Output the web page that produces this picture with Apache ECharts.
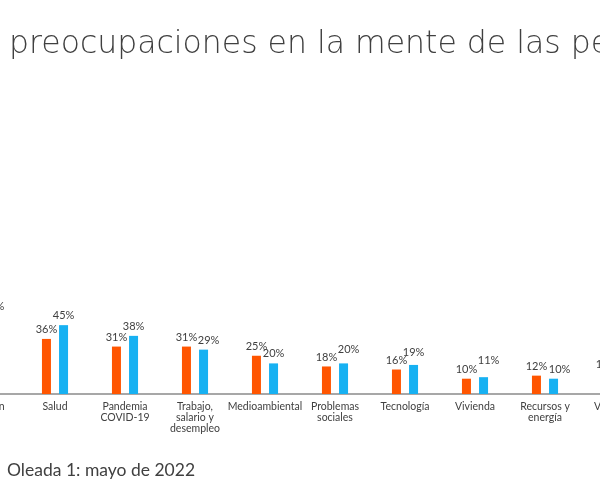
<!DOCTYPE html>
<html>
<head>
<meta charset="utf-8">
<script src="https://cdn.jsdelivr.net/npm/echarts@6/dist/echarts.min.js"></script>
<style>
html,body{margin:0;padding:0;width:600px;height:500px;overflow:hidden;background:#fff;position:relative;}
#chart{position:absolute;left:-50px;top:0;width:700px;height:500px;}
</style>
</head>
<body>
<div id="chart"></div>
<script>
const titleText = 'preocupaciones en la mente de las personas';
const subtitleText = 'Oleada 1: mayo de 2022';
const categories = ['Inflación', 'Salud', 'Pandemia\nCOVID-19', 'Trabajo,\nsalario y\ndesempleo', 'Medioambiental', 'Problemas\nsociales', 'Tecnología', 'Vivienda', 'Recursos y\nenergía', 'Violencia'];
const seriesOrange = [44, 36, 31, 31, 25, 18, 16, 10, 12, 13];
const seriesBlue = [51, 45, 38, 29, 20, 20, 19, 11, 10, 9];

const ORANGE = '#FF5500';
const BLUE = '#17B1F2';
const TXT = '#404040';
const FONT = 'Lato';

// label nudges for the blue series (style only), keyed by category index
const blueNudge = {3: [5, 0], 5: [5, -4], 6: [0, -3], 7: [5, -7], 8: [6, 0]};

const chart = echarts.init(document.getElementById('chart'), null, {renderer: 'canvas'});
chart.setOption({
  animation: false,
  backgroundColor: '#fff',
  title: [
    {text: titleText, left: 54, top: 24, textStyle: {fontFamily: 'DejaVu Sans', fontWeight: 200, fontSize: 31.5, color: TXT}},
    {text: subtitleText, left: 52, top: 456, textStyle: {fontFamily: FONT, fontWeight: 400, fontSize: 17.5, color: TXT}}
  ],
  grid: {left: 0, right: 0, top: 241, height: 153},
  xAxis: {
    type: 'category',
    data: categories,
    axisLine: {lineStyle: {color: '#8a8a8a', width: 1.5}},
    axisTick: {show: false},
    axisLabel: {interval: 0, margin: 7, fontFamily: FONT, fontSize: 10.5, lineHeight: 11, color: TXT}
  },
  yAxis: {type: 'value', min: 0, max: 100, show: false, splitLine: {show: false}},
  series: [
    {
      type: 'bar', name: 'orange', data: seriesOrange, barWidth: 9, barGap: '90%',
      itemStyle: {color: ORANGE},
      label: {show: true, position: 'top', distance: 4, formatter: '{c}%', fontFamily: FONT, fontSize: 11, color: TXT}
    },
    {
      type: 'bar', name: 'blue', barWidth: 9,
      data: seriesBlue.map((v, i) => blueNudge[i] ? {value: v, label: {offset: blueNudge[i]}} : v),
      itemStyle: {color: BLUE},
      label: {show: true, position: 'top', distance: 4, formatter: '{c}%', fontFamily: FONT, fontSize: 11, color: TXT}
    }
  ]
});
</script>
</body>
</html>
